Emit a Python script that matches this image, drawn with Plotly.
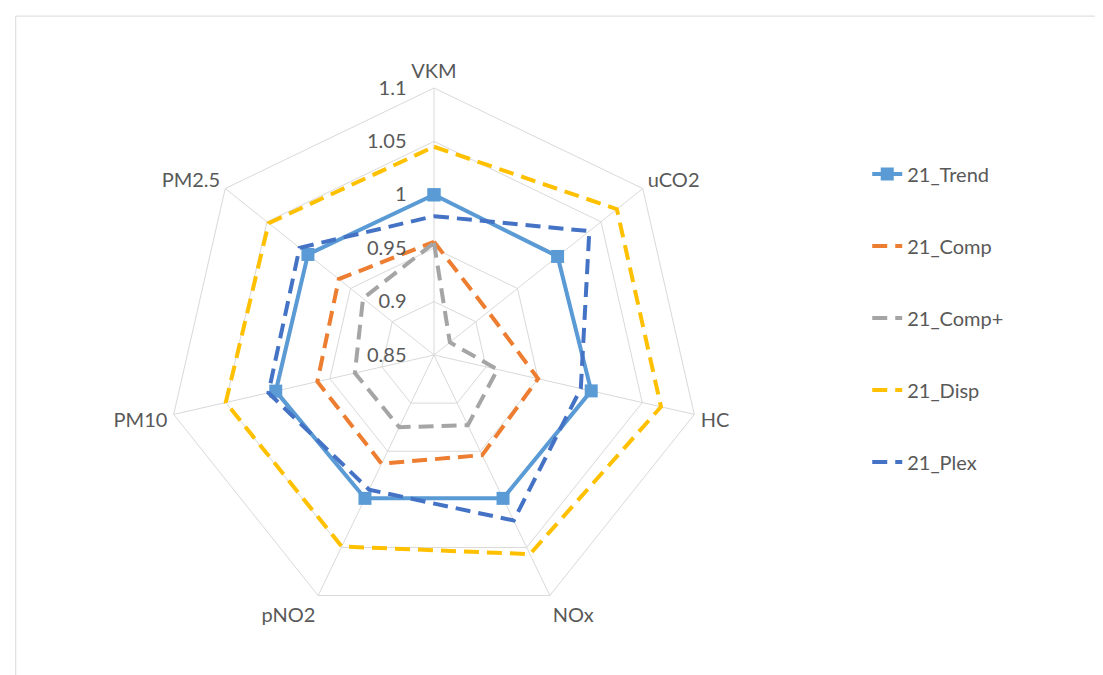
import plotly.graph_objects as go

categories = ["VKM", "uCO2", "HC", "NOx", "pNO2", "PM10", "PM2.5"]
trend = [1.0, 0.998, 1.001, 0.999, 0.999, 1.002, 1.001]
comp = [0.956, 0.915, 0.950, 0.954, 0.963, 0.962, 0.964]
comp_plus = [0.955, 0.869, 0.911, 0.923, 0.925, 0.926, 0.935]
disp = [1.045, 1.069, 1.068, 1.057, 1.049, 1.050, 1.048]
plex = [0.980, 1.036, 0.991, 1.022, 0.990, 1.009, 1.011]
tick_vals = [0.85, 0.9, 0.95, 1.0, 1.05, 1.1]
tick_text = ["0.85", "0.9", "0.95", "1", "1.05", "1.1"]

series = [
    ("21_Trend", trend, "#5B9BD5", "solid", True),
    ("21_Comp", comp, "#ED7D31", "15px,8px", False),
    ("21_Comp+", comp_plus, "#A5A5A5", "15px,8px", False),
    ("21_Disp", disp, "#FFC000", "15px,8px", False),
    ("21_Plex", plex, "#4472C4", "15px,8px", False),
]

fig = go.Figure()
for i, (name, vals, color, dash, marker) in enumerate(series):
    fig.add_trace(go.Scatterpolar(
        r=vals + vals[:1],
        theta=categories + categories[:1],
        name=name,
        legendgroup=name,
        mode="lines+markers" if marker else "lines",
        line=dict(color=color, width=4, dash=dash),
        marker=dict(symbol="square", size=13, color=color),
    ))

W, H = 1103, 675
cx, cy, R = 426, 347, 267
fig.update_layout(
    width=W, height=H,
    margin=dict(l=0, r=0, t=0, b=0),
    paper_bgcolor="white",
    plot_bgcolor="white",
    font=dict(family="Lato, Open Sans, sans-serif", size=20, color="#595959"),
    polar=dict(
        domain=dict(x=[(cx - R) / W, (cx + R) / W], y=[(H - cy - R) / H, (H - cy + R) / H]),
        bgcolor="white",
        gridshape="linear",
        angularaxis=dict(
            direction="clockwise", rotation=90,
            showline=True, linecolor="#D9D9D9", linewidth=1,
            gridcolor="#D9D9D9", gridwidth=1,
            ticks="outside", ticklen=2, tickcolor="rgba(0,0,0,0)",
            tickfont=dict(size=20, color="#595959"),
        ),
        radialaxis=dict(
            range=[0.85, 1.1], angle=90, side="counterclockwise",
            tickvals=tick_vals, ticktext=tick_text,
            showline=False, ticks="outside", ticklen=20, tickcolor="rgba(0,0,0,0)",
            gridcolor="#D9D9D9", gridwidth=1,
            tickfont=dict(size=20, color="#595959"),
            tickangle=90,
        ),
    ),
    legend=dict(
        x=0.779, y=0.783, xanchor="left", yanchor="top",
        font=dict(size=20, color="#595959"),
        tracegroupgap=43,
        traceorder="grouped",
        bgcolor="rgba(0,0,0,0)",
    ),
    shapes=[dict(type="rect", xref="paper", yref="paper", x0=0.007, y0=0.01, x1=1.2, y1=0.988,
                 line=dict(color="#D9D9D9", width=1))],
)

fig.write_html("out.html")
